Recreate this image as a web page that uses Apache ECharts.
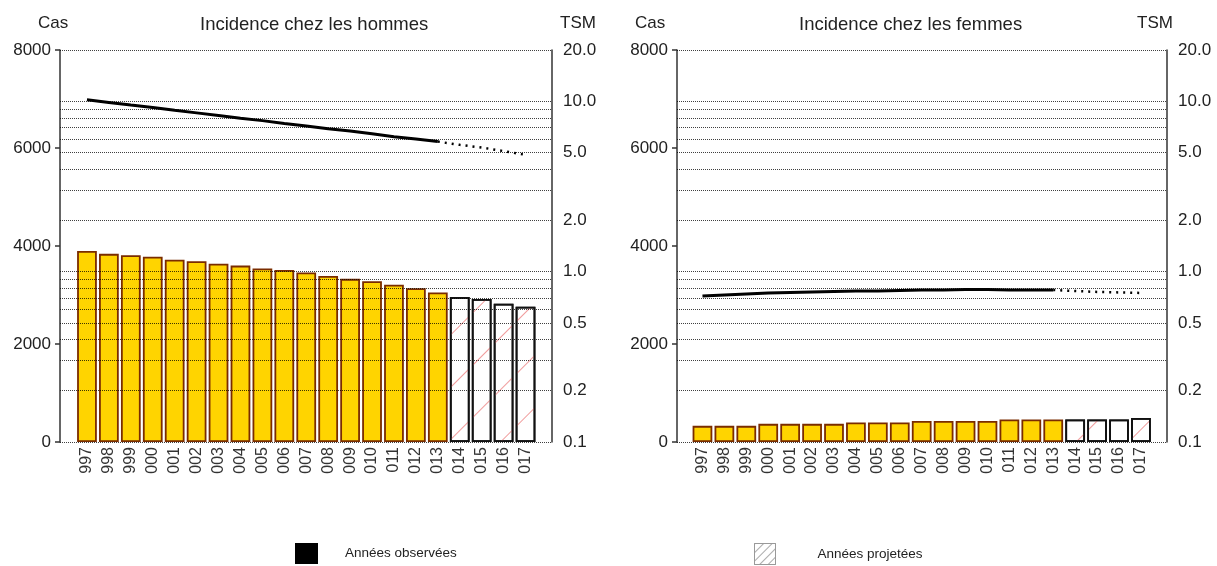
<!DOCTYPE html>
<html><head><meta charset="utf-8">
<script src="https://cdn.jsdelivr.net/npm/echarts@6/dist/echarts.min.js"></script>
<style>html,body{margin:0;padding:0;background:#fff}#c{width:1217px;height:566px}</style>
</head><body><div id="c"></div>
<script>
// ---- data ----
const years = ['1997','1998','1999','2000','2001','2002','2003','2004','2005','2006','2007',
               '2008','2009','2010','2011','2012','2013','2014','2015','2016','2017'];
const yearTickLabels = ['997','998','999','000','001','002','003','004','005','006','007',
                        '008','009','010','011','012','013','014','015','016','017'];
const lastObservedYear = '2013';
// Cas (left axis)
const casHommes = [3900,3840,3810,3780,3720,3690,3640,3600,3540,3510,3460,
                   3390,3330,3280,3210,3140,3050,2960,2920,2820,2760];
const casFemmes = [330,330,330,370,370,370,370,400,400,400,430,
                   430,430,430,460,460,460,460,460,460,490];
// TSM (right log axis)
const tsmHommes = [10.2,9.85,9.5,9.2,8.85,8.55,8.25,7.95,7.7,7.4,7.15,
                   6.9,6.7,6.45,6.2,6.0,5.8,5.55,5.35,5.1,4.85];
const tsmFemmes = [0.72,0.73,0.74,0.75,0.755,0.76,0.765,0.77,0.77,0.775,0.78,
                   0.78,0.785,0.785,0.78,0.78,0.78,0.77,0.76,0.755,0.75];
const casMax = 8000, casInterval = 2000;
const tsmMin = 0.1, tsmMax = 20;
const tsmTickLabels = [0.1,0.2,0.5,1,2,5,10,20];
const tsmGridValues = [0.1,0.2,0.3,0.4,0.5,0.6,0.7,0.8,0.9,1,2,3,4,5,6,7,8,9,10,20];
const titles = ['Incidence chez les hommes','Incidence chez les femmes'];
const legendNames = ['Années observées','Années projetées'];

// ---- chart ----
const FONT = "'Liberation Sans', Arial, sans-serif";
const lastIdx = years.indexOf(lastObservedYear);
const chart = echarts.init(document.getElementById('c'), null, {renderer:'canvas'});

const panels = [
  {outerLeft:60, outerWidth:492, innerLeft:76, innerWidth:460.5, cas:casHommes, tsm:tsmHommes,
   casX:38, titleX:200, tsmX:560},
  {outerLeft:677, outerWidth:490, innerLeft:691.5, innerWidth:460.4, cas:casFemmes, tsm:tsmFemmes,
   casX:635, titleX:799, tsmX:1137}
];
const TOP = 50, HEIGHT = 392;

const grid = [], xAxis = [], yAxis = [], series = [], title = [];
const hatch = {symbol:'rect', symbolSize:1, color:'rgba(236,130,130,0.8)',
               dashArrayX:[1,0], dashArrayY:[1,36], rotation:-Math.PI/4};

panels.forEach((p, k) => {
  const gO = 2*k, gI = 2*k+1;
  grid.push({left:p.outerLeft, width:p.outerWidth, top:TOP, height:HEIGHT, containLabel:false});
  grid.push({left:p.innerLeft, width:p.innerWidth, top:TOP, height:HEIGHT, containLabel:false});
  xAxis.push({type:'category', gridIndex:gO, data:[''], show:false});
  xAxis.push({type:'category', gridIndex:gI, data:years, boundaryGap:true,
    axisLine:{show:false}, axisTick:{show:false},
    axisLabel:{interval:0, rotate:90, margin:5, fontSize:16, color:'#333', fontFamily:FONT,
      formatter:(v, i) => yearTickLabels[i]}});
  // outer visible axes
  yAxis.push({type:'value', gridIndex:gO, position:'left', min:0, max:casMax, interval:casInterval,
    axisLine:{show:true, lineStyle:{color:'#333', width:1.5}},
    axisTick:{show:true, length:5, lineStyle:{color:'#333', width:1.5}},
    axisLabel:{margin:9, fontSize:17, color:'#222', fontFamily:FONT, formatter:v => String(v)},
    splitLine:{show:false}});
  yAxis.push({type:'log', logBase:10, gridIndex:gO, position:'right', min:tsmMin, max:tsmMax,
    axisLine:{show:true, lineStyle:{color:'#333', width:1.5}},
    axisTick:{show:false}, minorTick:{show:false}, splitLine:{show:false},
    axisLabel:{customValues:tsmTickLabels, margin:11, fontSize:17, color:'#222', fontFamily:FONT,
      formatter:v => Number(v).toFixed(1)}});
  // inner hidden axes (same ranges)
  yAxis.push({type:'value', gridIndex:gI, min:0, max:casMax, interval:casInterval, show:false});
  yAxis.push({type:'log', logBase:10, gridIndex:gI, min:tsmMin, max:tsmMax, show:false});
  const yO1 = 4*k+1, yI0 = 4*k+2, yI1 = 4*k+3;

  series.push({type:'bar', name:legendNames[0], xAxisIndex:gI, yAxisIndex:yI0,
    barGap:'-100%', barCategoryGap:'10%', z:2,
    itemStyle:{color:'#FFD400', borderColor:'#7a2c00', borderWidth:1.8},
    data:p.cas.map((v,i) => i <= lastIdx ? v : null)});
  series.push({type:'bar', name:legendNames[1], xAxisIndex:gI, yAxisIndex:yI0,
    barGap:'-100%', barCategoryGap:'10%', z:2,
    itemStyle:{color:'#ffffff', borderColor:'#111', borderWidth:1.8, decal:hatch},
    data:p.cas.map((v,i) => i > lastIdx ? v : null)});
  // dotted grid lines on the TSM log scale
  series.push({type:'line', name:'grid'+k, xAxisIndex:gO, yAxisIndex:yO1, data:[], silent:true, z:3,
    markLine:{silent:true, symbol:['none','none'], animation:false, label:{show:false},
      lineStyle:{type:[1,1], color:'rgba(0,0,0,0.75)', width:1},
      emphasis:{disabled:true},
      data:tsmGridValues.map(v => ({yAxis:v}))}});
  series.push({type:'line', name:'tsm'+k, xAxisIndex:gI, yAxisIndex:yI1, symbol:'none', z:4,
    lineStyle:{color:'#000', width:3}, connectNulls:false,
    data:p.tsm.map((v,i) => i <= lastIdx ? v : null)});
  series.push({type:'line', name:'tsmp'+k, xAxisIndex:gI, yAxisIndex:yI1, symbol:'none', z:4,
    lineStyle:{color:'#000', width:2.5, type:[2,5]}, connectNulls:false,
    data:p.tsm.map((v,i) => i >= lastIdx ? v : null)});

  const ts = {fontSize:17, fontWeight:'normal', color:'#222', fontFamily:FONT};
  title.push({text:'Cas', left:p.casX, top:15, padding:0, textStyle:ts});
  title.push({text:titles[k], left:p.titleX, top:15, padding:0, textStyle:{...ts, fontSize:18.5}});
  title.push({text:'TSM', left:p.tsmX, top:15, padding:0, textStyle:ts});
});

const legendText = {fontSize:13.5, color:'#222', fontFamily:FONT, padding:[0,0,0,22]};
const option = {
  animation:false,
  backgroundColor:'#fff',
  title, grid, xAxis, yAxis, series,
  legend:[
    {left:290, top:538, itemWidth:23, itemHeight:21, selectedMode:false, textStyle:legendText,
     data:[{name:legendNames[0], icon:'rect', itemStyle:{color:'#000', borderWidth:0}}]},
    {left:749, top:538, itemWidth:21, itemHeight:21, selectedMode:false, textStyle:{...legendText, padding:[0,0,0,37]},
     data:[{name:legendNames[1], icon:'rect', itemStyle:{color:'#fff', borderColor:'#999', borderWidth:1,
       decal:{symbol:'rect', symbolSize:1, color:'#aaa', dashArrayX:[1,0], dashArrayY:[1,5], rotation:-Math.PI/4}}}]}
  ]
};
chart.setOption(option);
</script>
</body></html>
